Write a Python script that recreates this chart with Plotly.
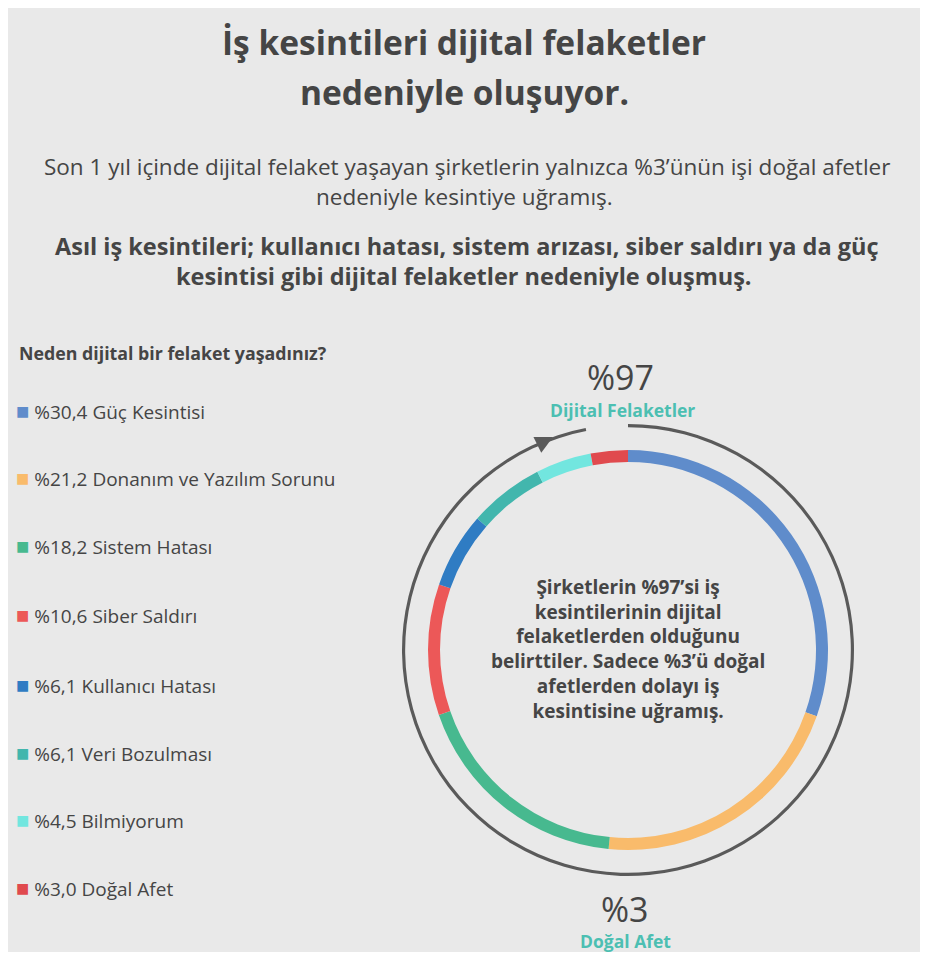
import plotly.graph_objects as go

labels = ["Güç Kesintisi", "Donanım ve Yazılım Sorunu", "Sistem Hatası", "Siber Saldırı",
          "Kullanıcı Hatası", "Veri Bozulması", "Bilmiyorum", "Doğal Afet"]
values = [30.4, 21.2, 18.2, 10.6, 6.1, 6.1, 4.5, 3.0]
value_text = ["%30,4", "%21,2", "%18,2", "%10,6", "%6,1", "%6,1", "%4,5", "%3,0"]
colors = ["#5f8ccb", "#f9bb6b", "#47b98f", "#ec5858", "#2f7cc3", "#42b6ad", "#72e6df", "#e04a4e"]
split = [97, 3]

# page has an 8px body margin, so draw in reference pixels and map into a smaller figure
OFF = 8
W, H = 928 - 2 * OFF, 960 - 2 * OFF
BG = "#e9e9e9"
DARK = "#454545"
TEAL = "#4cbfb2"
FONT = "Open Sans"

def px(x, y):
    return (x - OFF) / W, 1 - (y - OFF) / H

def dom(x0, x1, y0, y1):
    a, b = px(x0, y1)
    c, d = px(x1, y0)
    return dict(x=[a, c], y=[b, d])

fig = go.Figure()

fig.add_trace(go.Pie(
    values=values, labels=labels, sort=False, direction="clockwise", rotation=0,
    hole=0.94, marker=dict(colors=colors, line=dict(width=0)),
    textinfo="none", hoverinfo="label+value", showlegend=False,
    domain=dom(428, 828, 450, 850),
))
fig.add_trace(go.Pie(
    values=split, sort=False, direction="clockwise", rotation=0,
    hole=0.986, marker=dict(colors=["#5a5a5a", "rgba(0,0,0,0)"], line=dict(width=0)),
    textinfo="none", hoverinfo="skip", showlegend=False,
    domain=dom(402, 854, 424, 876),
))

ann = []
def text(x, y, t, size, color=DARK, bold=False, align="center", xanchor="center"):
    if bold:
        t = "<b>" + t.replace("<br>", "</b><br><b>") + "</b>"
    xx, yy = px(x, y)
    ann.append(dict(x=xx, y=yy, xref="paper", yref="paper", text=t, showarrow=False,
                    font=dict(family=FONT, size=size, color=color), align=align,
                    xanchor=xanchor, yanchor="middle"))

text(464, 42, "İş kesintileri dijital felaketler", 33.5, bold=True)
text(464, 92, "nedeniyle oluşuyor.", 33.5, bold=True)
text(467, 167, "Son 1 yıl içinde dijital felaket yaşayan şirketlerin yalnızca %3’ünün işi doğal afetler", 22.5)
text(464, 197, "nedeniyle kesintiye uğramış.", 22.5)
text(467, 246, "Asıl iş kesintileri; kullanıcı hatası, sistem arızası, siber saldırı ya da güç", 23.5, bold=True)
text(464, 276, "kesintisi gibi dijital felaketler nedeniyle oluşmuş.", 23.5, bold=True)
text(17, 353, "Neden dijital bir felaket yaşadınız?", 17.8, bold=True, xanchor="left", align="left")

rows = [410, 477, 545, 614, 684, 752, 819, 887]
for y, v, lab, c in zip(rows, value_text, labels, colors):
    text(14, y, f"<span style='color:{c};font-size:22px'>■</span> {v} {lab}", 19, xanchor="left", align="left")

text(620, 377, "%97", 34)
text(622, 410, "Dijital Felaketler", 17.5, color=TEAL, bold=True)
text(625, 909, "%3", 34)
text(625, 941, "Doğal Afet", 17.5, color=TEAL, bold=True)
text(628, 649, "Şirketlerin %97’si iş<br>kesintilerinin dijital<br>felaketlerden olduğunu<br>"
     "belirttiler. Sadece %3’ü doğal<br>afetlerden dolayı iş<br>kesintisine uğramış.", 19, bold=True)

hx, hy = px(553, 437)
ann.append(dict(x=hx, y=hy, xref="paper", yref="paper", ax=-20, ay=10, showarrow=True,
                arrowhead=2, arrowsize=1.4, arrowwidth=2.5, arrowcolor="#5a5a5a", text=""))

fig.update_layout(
    width=W, height=H, paper_bgcolor=BG, plot_bgcolor=BG,
    margin=dict(l=0, r=0, t=0, b=0), annotations=ann,
)

fig.write_html("out.html")
